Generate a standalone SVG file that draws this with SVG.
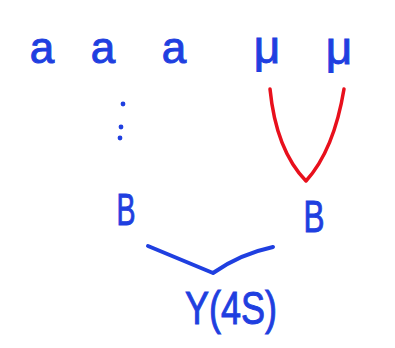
<svg xmlns="http://www.w3.org/2000/svg" width="395" height="348" viewBox="0 0 395 348">
<style>
.t{font-family:"Liberation Sans","DejaVu Sans",sans-serif;fill:#1f3fe0;stroke:#1f3fe0;stroke-width:1;text-anchor:middle}
.red{fill:none;stroke:#e8101c;stroke-width:3.5;stroke-linecap:round;stroke-linejoin:round}
.blue{fill:none;stroke:#1f3fe0;stroke-width:4;stroke-linecap:round;stroke-linejoin:round}
.dot{fill:#1f3fe0}
</style>
<rect width="395" height="348" fill="#ffffff"/>
<g id="connectors">
<path class="red" d="M270,89 Q276,150 306,181 Q334,150 344,89"/>
<path class="blue" d="M148,246 L213,273 Q240,254 273,247"/>
</g>
<g id="a1"><text class="t" x="42" y="63" font-size="44">a</text></g>
<g id="a2"><text class="t" x="103" y="63" font-size="44">a</text></g>
<g id="a3"><text class="t" x="174" y="63" font-size="44">a</text></g>
<g id="mu1"><text class="t" x="267" y="63" font-size="46">μ</text></g>
<g id="mu2"><text class="t" x="339" y="64" font-size="46">μ</text></g>
<g id="dots"><circle class="dot" cx="123" cy="104" r="2.4"/><circle class="dot" cx="121" cy="127" r="2.4"/><circle class="dot" cx="120" cy="138" r="2.4"/></g>
<g id="B1"><text class="t" x="126" y="225" font-size="44" textLength="19" lengthAdjust="spacingAndGlyphs">B</text></g>
<g id="B2"><text class="t" x="314" y="232" font-size="44" textLength="21" lengthAdjust="spacingAndGlyphs">B</text></g>
<g id="upsilon"><text class="t" x="231" y="324" font-size="46" textLength="92" lengthAdjust="spacingAndGlyphs">Υ(4S)</text></g>
</svg>
